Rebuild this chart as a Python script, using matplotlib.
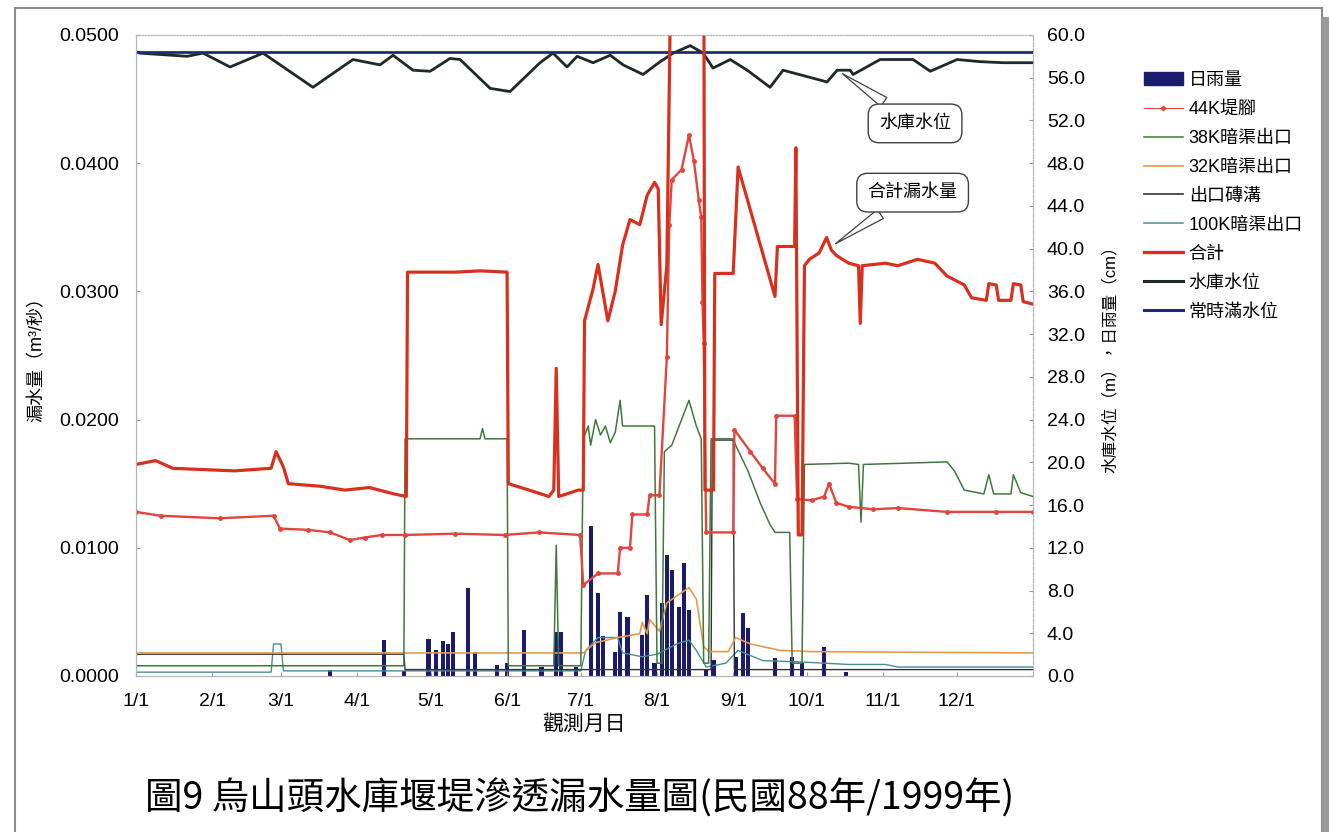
import matplotlib
matplotlib.use('Agg')
import matplotlib.pyplot as plt
from matplotlib.patches import Rectangle, Patch
from matplotlib.lines import Line2D

plt.rcParams['font.family'] = ['Liberation Sans', 'Noto Sans CJK TC', 'DejaVu Sans']

# 1999 day-of-year (0 = Jan 1) and readings
month_days = [0, 31, 59, 90, 120, 151, 181, 212, 243, 273, 304, 334]
month_labels = ['1/1', '2/1', '3/1', '4/1', '5/1', '6/1', '7/1', '8/1', '9/1', '10/1', '11/1', '12/1']

# 合計 (m3/s)
total_d = [0, 8, 15, 40, 55, 57, 60, 62, 75, 85, 95, 105, 110, 110.5, 130, 140, 151, 151.5, 160, 168,
           170, 171, 172, 180, 182, 182.5, 186, 188, 192, 195, 198, 201, 205, 208, 211, 212.5, 213.7,
           216, 218, 231, 231.5, 235, 235.5, 243, 245, 260, 261, 268, 268.5, 269.5, 271, 272, 274, 278,
           281, 283, 285, 290, 294, 294.7, 295.5, 305, 310, 318, 325, 330, 337, 340, 346, 347, 350,
           351, 356, 357, 360, 361, 365]
total_v = [0.0165, 0.0168, 0.0162, 0.0160, 0.0162, 0.0175, 0.0163, 0.0150, 0.0148, 0.0145, 0.0147,
           0.0142, 0.0140, 0.0315, 0.0315, 0.0316, 0.0315, 0.0150, 0.0145, 0.0140, 0.0145, 0.0240,
           0.0140, 0.0145, 0.0145, 0.0277, 0.0302, 0.0321, 0.0277, 0.0300, 0.0336, 0.0356, 0.0352,
           0.0375, 0.0385, 0.0380, 0.0274, 0.0320, 0.0600, 0.0600, 0.0145, 0.0145, 0.0314, 0.0314,
           0.0397, 0.0296, 0.0335, 0.0335, 0.0412, 0.0110, 0.0110, 0.0320, 0.0325, 0.0330, 0.0342,
           0.0332, 0.0328, 0.0322, 0.0320, 0.0275, 0.0320, 0.0322, 0.0320, 0.0325, 0.0322, 0.0312,
           0.0305, 0.0295, 0.0293, 0.0306, 0.0305, 0.0293, 0.0293, 0.0306, 0.0305, 0.0292, 0.0290]

# 44K堤腳
k44_d = [0, 10, 34, 56, 58.6, 70, 79, 87, 93, 100, 109.5, 130, 150, 164, 180.7, 182, 188, 196, 197,
         201, 202, 208, 209, 213, 216, 217, 218, 222, 225, 227, 229, 230, 230.5, 231, 232, 243, 243.5,
         250, 255, 260, 260.5, 268, 269, 275, 280, 282, 285, 290, 300, 310, 330, 350, 365]
k44_v = [0.0128, 0.0125, 0.0123, 0.0125, 0.0115, 0.0114, 0.0112, 0.0106, 0.0108, 0.0110, 0.0110,
         0.0111, 0.0110, 0.0112, 0.0110, 0.0071, 0.0080, 0.0080, 0.0100, 0.0100, 0.0126, 0.0126,
         0.0141, 0.0141, 0.0249, 0.0352, 0.0387, 0.0395, 0.0422, 0.0402, 0.0371, 0.0358, 0.0292,
         0.0260, 0.0112, 0.0112, 0.0192, 0.0175, 0.0162, 0.0150, 0.0203, 0.0203, 0.0138, 0.0137,
         0.0140, 0.0150, 0.0135, 0.0132, 0.0130, 0.0131, 0.0128, 0.0128, 0.0128]

# 38K暗渠出口
k38_d = [0, 109, 109.5, 140, 141, 142, 151, 151.5, 170, 171, 172, 181, 182, 184, 185, 187, 189, 191,
         193, 195, 197, 198, 211, 212, 214, 215, 218, 222, 225, 228, 230, 231, 233, 234, 243, 244,
         249, 254, 258, 260, 266, 267, 271, 272, 290, 294, 295, 296, 330, 333, 337, 345, 347, 349,
         356, 357, 360, 365]
k38_v = [0.0008, 0.0008, 0.0185, 0.0185, 0.0193, 0.0185, 0.0185, 0.0008, 0.0008, 0.0102, 0.0008,
         0.0008, 0.0185, 0.0195, 0.0180, 0.0200, 0.0188, 0.0195, 0.0182, 0.0190, 0.0215, 0.0195,
         0.0195, 0.0010, 0.0010, 0.0175, 0.0180, 0.0200, 0.0215, 0.0195, 0.0185, 0.0010, 0.0010,
         0.0185, 0.0185, 0.0180, 0.0160, 0.0135, 0.0118, 0.0112, 0.0112, 0.0010, 0.0010, 0.0165,
         0.0166, 0.0165, 0.0120, 0.0165, 0.0167, 0.0160, 0.0145, 0.0142, 0.0157, 0.0142, 0.0142,
         0.0157, 0.0143, 0.0140]

# 32K暗渠出口
k32_d = [0, 182, 187, 196, 205, 206, 208, 209, 213, 216, 222, 225, 228, 231, 233, 241, 244, 250, 262,
         275, 365]
k32_v = [0.0018, 0.0018, 0.0026, 0.0030, 0.0033, 0.0042, 0.0033, 0.0044, 0.0035, 0.0057, 0.0065,
         0.0069, 0.0060, 0.0023, 0.0019, 0.0019, 0.0030, 0.0025, 0.0020, 0.0019, 0.0018]

# 出口磚溝
outlet_d = [0, 109, 109.5, 234, 234.5, 243, 243.5, 365]
outlet_v = [0.0017, 0.0017, 0.0005, 0.0005, 0.0184, 0.0184, 0.0005, 0.0005]

# 100K暗渠出口
k100_d = [0, 55, 56, 59, 60, 181, 183, 188, 196, 198, 206, 212, 220, 225, 228, 232, 240, 245, 255,
          270, 290, 305, 310, 330, 365]
k100_v = [0.0003, 0.0003, 0.0025, 0.0025, 0.0004, 0.0004, 0.0020, 0.0030, 0.0030, 0.0018, 0.0015,
          0.0017, 0.0025, 0.0028, 0.0020, 0.0007, 0.0010, 0.0020, 0.0012, 0.0011, 0.0009, 0.0009,
          0.0007, 0.0007, 0.0007]

# 水庫水位 (m)
level_d = [0, 1.6, 20.8, 27.3, 38.3, 51.7, 72, 88.3, 99.3, 104.6, 112.7, 119.7, 127.8, 131.9, 144.1,
           152.2, 164.4, 169.7, 175.4, 179.5, 186, 193, 198.2, 206.3, 213.3, 218.6, 225.5, 230.8,
           234.8, 241.8, 248.7, 258, 263.3, 281.2, 285.3, 290.6, 291.8, 302.8, 316.2, 323.2, 334.1,
           343.5, 352.9, 365]
level_v = [58.4, 58.3, 58.0, 58.3, 57.0, 58.3, 55.1, 57.7, 57.2, 58.1, 56.7, 56.6, 57.8, 57.7, 55.0,
           54.7, 57.4, 58.3, 57.0, 58.0, 57.4, 58.1, 57.2, 56.3, 57.5, 58.3, 59.0, 58.3, 56.9, 57.7,
           56.7, 55.1, 56.7, 55.6, 56.7, 56.7, 56.3, 57.7, 57.7, 56.6, 57.7, 57.5, 57.4, 57.4]

full_level = 58.4

# 日雨量 (cm)
rain_d = [79, 101, 109, 119, 122, 125, 127, 129, 135, 138, 147, 151, 158, 165, 171, 173, 179, 185,
          188, 190, 195, 197, 200, 206, 208, 211, 214, 216, 218, 221, 223, 225, 232, 235, 244, 247,
          249, 260, 267, 271, 280, 289]
rain_v = [0.6, 3.4, 0.5, 3.5, 2.4, 3.3, 3.0, 4.1, 8.2, 2.2, 1.0, 1.2, 4.3, 0.8, 4.1, 4.1, 0.8, 14.0,
          7.8, 3.7, 2.2, 6.0, 5.5, 3.8, 7.6, 1.2, 6.8, 11.3, 9.9, 6.5, 10.6, 6.2, 0.6, 1.5, 1.8, 5.9,
          4.5, 1.7, 1.8, 1.2, 2.7, 0.4]

fig = plt.figure(figsize=(13.29, 8.32), dpi=100)
fig.patch.set_facecolor('white')
ax = fig.add_axes([0.1023, 0.1875, 0.675, 0.7705])
ax2 = ax.twinx()

ax2.bar(rain_d, rain_v, width=1.7, color='#1b1b6b', zorder=2)
ax2.plot(level_d, level_v, color='#1e2a2a', lw=2.0, zorder=3)
ax2.axhline(full_level, color='#1f2a7a', lw=2.0, zorder=3)

ax.plot(k100_d, k100_v, color='#4a8c9c', lw=1.0)
ax.plot(outlet_d, outlet_v, color='#333333', lw=1.0)
ax.plot(k32_d, k32_v, color='#e39a4e', lw=1.2)
ax.plot(k38_d, k38_v, color='#3d7a3a', lw=1.1)
ax.plot(k44_d, k44_v, color='#e0463c', lw=1.7, marker='o', markersize=2.5)
ax.plot(total_d, total_v, color='#d9301e', lw=2.3)

ax.set_zorder(ax2.get_zorder() + 1)
ax.patch.set_visible(False)

ax.set_xlim(0, 365)
ax.set_ylim(0, 0.05)
ax2.set_ylim(0, 60)
ax.set_xticks(month_days)
ax.set_xticklabels(month_labels)
ax.set_yticks([0, 0.01, 0.02, 0.03, 0.04, 0.05])
ax.set_yticklabels(['%.4f' % v for v in [0, 0.01, 0.02, 0.03, 0.04, 0.05]])
ax2.set_yticks(range(0, 61, 4))
ax2.set_yticklabels(['%.1f' % v for v in range(0, 61, 4)])
ax.tick_params(labelsize=14, length=3, direction='in', color='0.6', pad=12)
ax2.tick_params(labelsize=14, length=3, direction='in', color='0.6', pad=10)

for a in (ax, ax2):
    for s in a.spines.values():
        s.set_color('0.7')
        s.set_linewidth(0.8)
    a.spines['top'].set_linestyle(':')
    a.spines['right'].set_linestyle('--')

ax.set_xlabel('觀測月日', fontsize=15, labelpad=3)
ax.set_ylabel('漏水量（m³/秒）', fontsize=13, labelpad=10)
ax2.set_ylabel('水庫水位（m），日雨量（cm）', fontsize=12, labelpad=12)

box = dict(boxstyle='round,pad=0.6,rounding_size=0.6', fc='white', ec='0.25', lw=1.0)
ax.annotate('水庫水位', xy=(286.5, 0.0471), xytext=(317, 0.0431), fontsize=13,
            ha='center', va='center', bbox=box,
            arrowprops=dict(arrowstyle='wedge,tail_width=0.6', fc='white', ec='0.25', lw=0.9))
ax.annotate('合計漏水量', xy=(283.7, 0.0336), xytext=(316, 0.0377), fontsize=13,
            ha='center', va='center', bbox=box,
            arrowprops=dict(arrowstyle='wedge,tail_width=0.6', fc='white', ec='0.25', lw=0.9))

handles = [
    Patch(color='#1b1b6b'),
    Line2D([], [], color='#e0463c', lw=0.8, marker='o', markersize=2.5),
    Line2D([], [], color='#3d7a3a', lw=1.1),
    Line2D([], [], color='#e39a4e', lw=1.2),
    Line2D([], [], color='#333333', lw=1.2),
    Line2D([], [], color='#4a8c9c', lw=1.1),
    Line2D([], [], color='#d9301e', lw=2.4),
    Line2D([], [], color='#1e2a2a', lw=2.2),
    Line2D([], [], color='#1f2a7a', lw=2.2),
]
labels = ['日雨量', '44K堤腳', '38K暗渠出口', '32K暗渠出口', '出口磚溝', '100K暗渠出口',
          '合計', '水庫水位', '常時滿水位']
fig.legend(handles, labels, loc='upper left', bbox_to_anchor=(0.855, 0.922), frameon=False,
           fontsize=13, handlelength=2.2, handletextpad=0.3, labelspacing=0.66, borderaxespad=0)

fig.text(0.436, 0.04, '圖9 烏山頭水庫堰堤滲透漏水量圖(民國88年/1999年)', fontsize=27,
         ha='center', va='center', family=['Noto Sans CJK TC', 'DejaVu Sans'])

# picture frame with shadow
fig.add_artist(Rectangle((0.011, -0.01), 0.984, 1.0, transform=fig.transFigure,
                         fill=False, ec='0.55', lw=1.5))
fig.add_artist(Rectangle((0.995, -0.01), 0.005, 0.99, transform=fig.transFigure,
                         fc='0.6', ec='none'))

fig.savefig('out.png', dpi=100)
